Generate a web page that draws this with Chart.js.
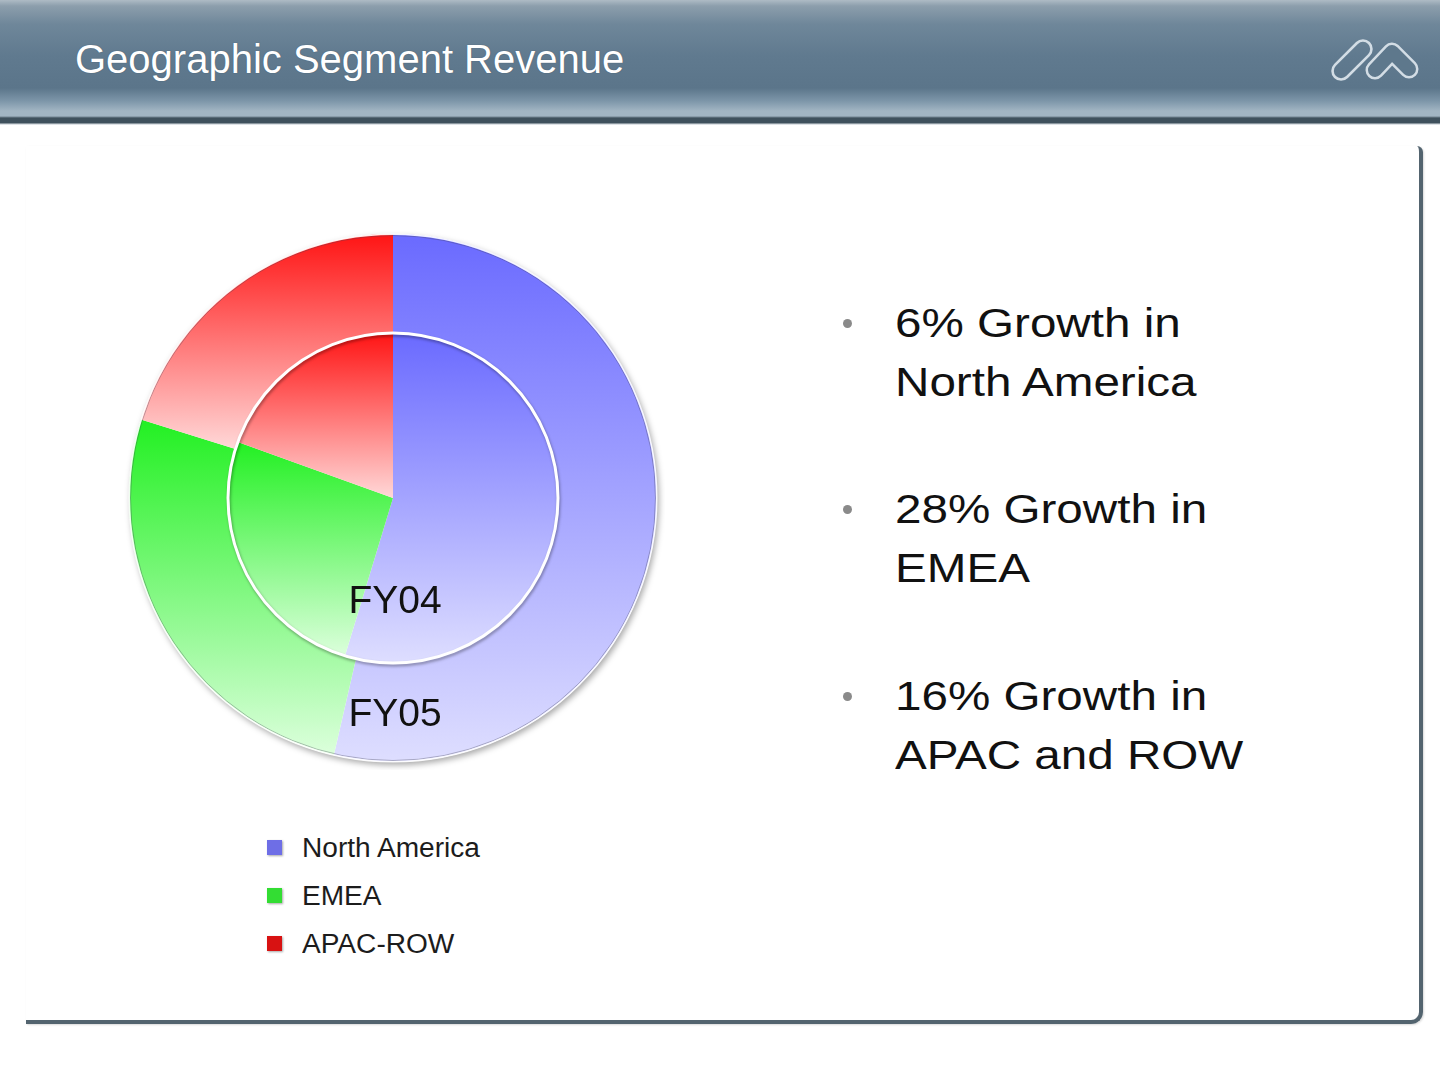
<!DOCTYPE html>
<html>
<head>
<meta charset="utf-8">
<title>Geographic Segment Revenue</title>
<script src="https://cdn.jsdelivr.net/npm/chart.js@4.4.1/dist/chart.umd.min.js"></script>
<style>
  html, body { margin: 0; padding: 0; background: #fff; }
  body { width: 1440px; height: 1080px; position: relative; overflow: hidden; font-family: Arial, 'Liberation Sans', sans-serif; }
  .header {
    position: absolute; left: 0; top: 0; width: 1440px; height: 125px;
    background: linear-gradient(to bottom, #aebbc5 0px, #8c9eac 6px, #6f879a 24px, #607a8f 55px, #5b758a 88px, #7d96a9 101px, #a2b5c3 111px, #a2b5c3 116px, #3f515d 118px, #3f515d 123px, #d3d9de 124px, #ffffff 126px);
  }
  .title { position: absolute; left: 75px; top: 35px; font-size: 40px; color: #fff; line-height: 48px; text-shadow: 0 0 1px rgba(40,55,70,0.6); white-space: nowrap; }
  .logo { position: absolute; left: 1320px; top: 28px; }
  .panel {
    position: absolute; left: 26px; top: 146px; width: 1393px; height: 874px;
    border-right: 4px solid #53646f; border-bottom: 4px solid #53646f;
    border-bottom-right-radius: 12px; border-top-right-radius: 6px;
    box-shadow: 1px 1px 2px rgba(0,0,0,0.15);
  }
  #chartBox { position: absolute; left: 121px; top: 226px; width: 544px; height: 544px; }
  .legend-row { position: absolute; left: 267px; height: 30px; line-height: 30px; font-size: 27px; color: #1c1c1c; white-space: nowrap; }
  .legend-row .sw { position: absolute; left: 0; top: 7px; width: 15px; height: 15px; box-shadow: 1px 1px 2px rgba(0,0,0,0.35); }
  .legend-row .lb { position: absolute; left: 35px; top: 0; transform: scaleX(1.04); transform-origin: left top; }
  .bullet { position: absolute; left: 895px; font-size: 40px; line-height: 59px; color: #111; white-space: nowrap; transform: scaleX(1.19); transform-origin: left top; }
  .dot { position: absolute; left: 843px; width: 9px; height: 9px; border-radius: 50%; background: #8a8a8a; }
</style>
</head>
<body>
<div class="header"></div>
<div class="title">Geographic Segment Revenue</div>
<svg class="logo" width="110" height="62" viewBox="1320 28 110 62">
  <rect x="-24" y="-8.5" width="48" height="17" rx="8.5" transform="translate(1352,60) rotate(-45)" fill="none" stroke="#d3dde5" stroke-width="2.6"/>
  <polyline points="1375,70 1392,52 1409,69" fill="none" stroke="#d3dde5" stroke-width="19" stroke-linecap="round" stroke-linejoin="round"/>
  <polyline points="1375,70 1392,52 1409,69" fill="none" stroke="#5e788c" stroke-width="14" stroke-linecap="round" stroke-linejoin="round"/>
</svg>
<div class="panel"></div>
<div id="chartBox"><canvas id="geoChart"></canvas></div>
<div id="legend"></div>
<div id="bullets"></div>

<script>
  // segments, outer ring FY05 / inner ring FY04 (share of revenue, %)
  const regions = ['North America', 'EMEA', 'APAC-ROW'];
  const ringLabels = ['FY05', 'FY04'];
  const fy05Share = [53.6, 26.2, 20.2];
  const fy04Share = [54.7, 25.8, 19.5];
  const bulletLines = [
    ['6% Growth in', 'North America'],
    ['28% Growth in', 'EMEA'],
    ['16% Growth in', 'APAC and ROW']
  ];

  const gradTop = ['#6a6aff', '#22f022', '#ff1414'];
  const gradBottom = ['#dedeff', '#dcffdc', '#ffd8d8'];
  const swatchColors = ['#6e6ee6', '#33dd33', '#d81212'];

  // vertical gradient fitted to each slice's own top/bottom
  function sliceGradient(c) {
    const chart = c.chart;
    const area = chart.chartArea;
    const ctrl = chart.getDatasetMeta(c.datasetIndex).controller;
    if (!area || !ctrl || !ctrl.outerRadius) return gradTop[c.dataIndex];
    const data = chart.data.datasets[c.datasetIndex].data;
    const total = data.reduce((a, b) => a + b, 0);
    let start = -Math.PI / 2;
    for (let i = 0; i < c.dataIndex; i++) start += data[i] / total * 2 * Math.PI;
    const end = start + data[c.dataIndex] / total * 2 * Math.PI;
    const rO = ctrl.outerRadius, rI = ctrl.innerRadius;
    const ys = [Math.sin(start) * rO, Math.sin(end) * rO, Math.sin(start) * rI, Math.sin(end) * rI];
    const within = a => { let t = a; while (t < start) t += 2 * Math.PI; return t <= end + 1e-9; };
    if (within(Math.PI / 2)) ys.push(rO);
    if (within(-Math.PI / 2)) ys.push(-rO);
    const cy = (area.top + area.bottom) / 2;
    const g = chart.ctx.createLinearGradient(0, cy + Math.min(...ys), 0, cy + Math.max(...ys));
    g.addColorStop(0, gradTop[c.dataIndex]);
    g.addColorStop(1, gradBottom[c.dataIndex]);
    return g;
  }

  const ringDecor = {
    id: 'ringDecor',
    beforeDatasetsDraw(chart) {
      const arc = chart.getDatasetMeta(0).data[0];
      const ctx = chart.ctx;
      ctx.save();
      ctx.beginPath();
      ctx.arc(arc.x, arc.y, arc.outerRadius, 0, Math.PI * 2);
      ctx.fillStyle = '#ffffff';
      ctx.shadowColor = 'rgba(0,0,0,0.35)';
      ctx.shadowBlur = 6;
      ctx.shadowOffsetX = 2;
      ctx.shadowOffsetY = 3;
      ctx.fill();
      ctx.restore();
    },
    afterDatasetsDraw(chart, args, opts) {
      const ctx = chart.ctx;
      const outer = chart.getDatasetMeta(0).data[0];
      const inner = chart.getDatasetMeta(1).data[0];
      ctx.save();
      // rim of the outer ring
      ctx.beginPath();
      ctx.arc(outer.x, outer.y, outer.outerRadius - 1.5, 0, Math.PI * 2);
      ctx.strokeStyle = 'rgba(70,70,90,0.35)';
      ctx.lineWidth = 1;
      ctx.stroke();
      ctx.beginPath();
      ctx.arc(outer.x, outer.y, outer.outerRadius - 0.3, 0, Math.PI * 2);
      ctx.strokeStyle = 'rgba(255,255,255,0.9)';
      ctx.lineWidth = 1.6;
      ctx.stroke();
      // white separator between the rings
      ctx.beginPath();
      ctx.arc(inner.x, inner.y, inner.outerRadius, 0, Math.PI * 2);
      ctx.strokeStyle = '#ffffff';
      ctx.lineWidth = 3;
      ctx.shadowColor = 'rgba(0,0,0,0.35)';
      ctx.shadowBlur = 3;
      ctx.shadowOffsetX = 1;
      ctx.shadowOffsetY = 2;
      ctx.stroke();
      ctx.restore();

      // ring captions
      ctx.save();
      ctx.font = opts.fontSize + "px 'Liberation Sans', Arial, sans-serif";
      ctx.fillStyle = '#111';
      ctx.textAlign = 'center';
      ctx.textBaseline = 'alphabetic';
      chart.data.datasets.forEach((ds, i) => {
        const a = chart.getDatasetMeta(i).data[0];
        const r = a.innerRadius + (a.outerRadius - a.innerRadius) * opts.labelFrac[i];
        ctx.fillText(ds.label, a.x + 2, a.y + r + opts.fontSize * 0.716 / 2);
      });
      ctx.restore();
    }
  };

  new Chart(document.getElementById('geoChart'), {
    type: 'doughnut',
    data: {
      labels: regions,
      datasets: [
        { label: ringLabels[0], data: fy05Share, weight: 3, backgroundColor: sliceGradient, borderWidth: 0 },
        { label: ringLabels[1], data: fy04Share, weight: 5, backgroundColor: sliceGradient, borderWidth: 0 }
      ]
    },
    options: {
      responsive: true,
      maintainAspectRatio: false,
      animation: false,
      events: [],
      cutout: 0,
      layout: { padding: 8 },
      plugins: {
        legend: { display: false },
        tooltip: { enabled: false },
        ringDecor: { fontSize: 39, labelFrac: [0.5, 0.61] }
      }
    },
    plugins: [ringDecor]
  });

  // legend list under the chart
  const legendEl = document.getElementById('legend');
  regions.forEach((name, i) => {
    const row = document.createElement('div');
    row.className = 'legend-row';
    row.style.top = (833 + i * 48) + 'px';
    row.innerHTML = '<span class="sw" style="background:' + swatchColors[i] + '"></span><span class="lb">' + name + '</span>';
    legendEl.appendChild(row);
  });

  // bullet text on the right
  const bulletsEl = document.getElementById('bullets');
  const bulletTops = [294, 480, 667];
  bulletLines.forEach((lines, i) => {
    const b = document.createElement('div');
    b.className = 'bullet';
    b.style.top = bulletTops[i] + 'px';
    b.innerHTML = lines.join('<br>');
    bulletsEl.appendChild(b);
    const d = document.createElement('div');
    d.className = 'dot';
    d.style.top = (bulletTops[i] + 25) + 'px';
    bulletsEl.appendChild(d);
  });
</script>
</body>
</html>
